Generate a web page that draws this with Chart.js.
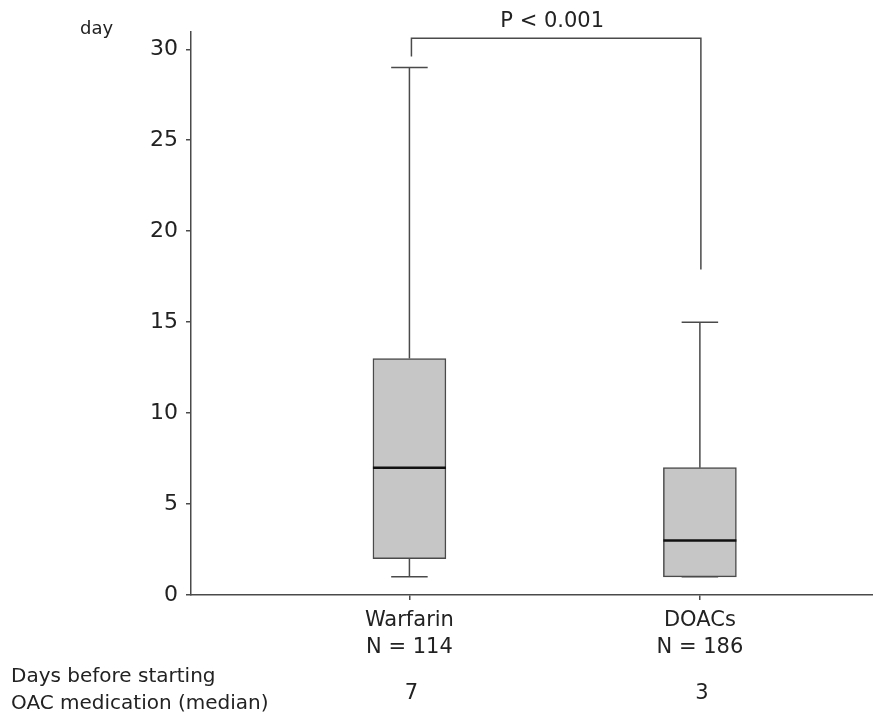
<!DOCTYPE html>
<html>
<head>
<meta charset="utf-8">
<script src="https://cdn.jsdelivr.net/npm/chart.js@4"></script>
<style>
  html, body { margin: 0; padding: 0; background: #fff; }
  #wrap { width: 873px; height: 719px; }
</style>
</head>
<body>
<div id="wrap"><canvas id="c"></canvas></div>
<script>
// data
const groups = ['Warfarin', 'DOACs'];
const counts = ['N = 114', 'N = 186'];
const xPos = [1, 2];
const mins = [1, 1];
const q1s = [2, 1];
const medians = [7, 3];
const q3s = [13, 7];
const maxs = [29, 15];
const yTicks = [0, 5, 10, 15, 20, 25, 30];
// significance bracket: left leg bottom, top, right leg bottom
const bracketY = [29.6, 30.6, 17.9];
const pLabel = 'P < 0.001';
const rowTitle = ['Days before starting', 'OAC medication (median)'];

const FONT = '"DejaVu Sans", Verdana, sans-serif';
const LINE = '#4a4a4a';

// whiskers, medians, bracket and extra text, all placed via the chart scales
const extras = {
  id: 'extras',
  afterDatasetsDraw(chart) {
    const { ctx, scales: { x, y } } = chart;
    const half = 36.5;
    ctx.save();
    ctx.strokeStyle = LINE;
    ctx.lineWidth = 1.5;
    xPos.forEach((v, i) => {
      const cx = x.getPixelForValue(v);
      ctx.beginPath();
      ctx.moveTo(cx, y.getPixelForValue(q3s[i]));
      ctx.lineTo(cx, y.getPixelForValue(maxs[i]));
      ctx.moveTo(cx, y.getPixelForValue(q1s[i]));
      ctx.lineTo(cx, y.getPixelForValue(mins[i]));
      // caps
      ctx.moveTo(cx - half / 2, y.getPixelForValue(maxs[i]));
      ctx.lineTo(cx + half / 2, y.getPixelForValue(maxs[i]));
      ctx.moveTo(cx - half / 2, y.getPixelForValue(mins[i]));
      ctx.lineTo(cx + half / 2, y.getPixelForValue(mins[i]));
      ctx.stroke();
    });
    // medians
    ctx.strokeStyle = '#111';
    ctx.lineWidth = 2.5;
    xPos.forEach((v, i) => {
      const cx = x.getPixelForValue(v);
      const my = y.getPixelForValue(medians[i]);
      ctx.beginPath();
      ctx.moveTo(cx - half, my);
      ctx.lineTo(cx + half, my);
      ctx.stroke();
    });
    ctx.restore();
  },
  afterDraw(chart) {
    const { ctx, scales: { x, y } } = chart;
    ctx.save();
    const xl = x.getPixelForValue(xPos[0]) + 2;
    const xr = x.getPixelForValue(xPos[1]) + 1;
    ctx.strokeStyle = LINE;
    ctx.lineWidth = 1.5;
    ctx.beginPath();
    ctx.moveTo(xl, y.getPixelForValue(bracketY[0]));
    ctx.lineTo(xl, y.getPixelForValue(bracketY[1]));
    ctx.lineTo(xr, y.getPixelForValue(bracketY[1]));
    ctx.lineTo(xr, y.getPixelForValue(bracketY[2]));
    ctx.stroke();

    ctx.fillStyle = '#222';
    ctx.textBaseline = 'middle';
    ctx.textAlign = 'center';
    ctx.font = '21px ' + FONT;
    ctx.fillText(pLabel, (xl + xr) / 2 - 4, 22);

    ctx.textAlign = 'left';
    ctx.font = '18px ' + FONT;
    ctx.fillText('day', 80, 29);

    ctx.font = '20px ' + FONT;
    ctx.fillText(rowTitle[0], 11, 677);
    ctx.fillText(rowTitle[1], 11, 704);

    ctx.textAlign = 'center';
    ctx.font = '21px ' + FONT;
    xPos.forEach((v, i) => {
      ctx.fillText(String(medians[i]), x.getPixelForValue(v) + 2, 694);
    });
    ctx.restore();
  }
};

new Chart(document.getElementById('c'), {
  type: 'bar',
  data: {
    datasets: [{
      data: xPos.map((v, i) => ({ x: v, y: [q1s[i], q3s[i]] })),
      backgroundColor: '#c6c6c6',
      borderColor: LINE,
      borderWidth: 1.5,
      borderSkipped: false,
      barThickness: 73
    }]
  },
  options: {
    responsive: true,
    maintainAspectRatio: false,
    animation: false,
    layout: { padding: { top: 32, right: 0, bottom: 0, left: 0 } },
    plugins: { legend: { display: false }, tooltip: { enabled: false } },
    scales: {
      x: {
        type: 'linear',
        offset: false,
        min: 0.248,
        max: 2.596,
        afterBuildTicks: s => { s.ticks = xPos.map(v => ({ value: v })); },
        afterFit: s => { s.height = 124; },
        grid: { offset: false, drawOnChartArea: false, drawTicks: true, tickLength: 5, color: LINE, lineWidth: 1.5 },
        border: { color: LINE, width: 1.5 },
        ticks: {
          autoSkip: false,
          maxRotation: 0,
          padding: 7,
          color: '#222',
          font: { family: FONT, size: 21, lineHeight: 1.29 },
          callback: v => {
            const i = xPos.indexOf(v);
            return i < 0 ? '' : [groups[i], counts[i]];
          }
        }
      },
      y: {
        min: 0,
        max: 30.95,
        afterBuildTicks: s => { s.ticks = yTicks.map(v => ({ value: v })); },
        afterFit: s => { s.width = 191; },
        grid: { drawOnChartArea: false, drawTicks: true, tickLength: 5, color: LINE, lineWidth: 1.5 },
        border: { color: LINE, width: 1.5 },
        ticks: {
          padding: 8,
          color: '#222',
          font: { family: FONT, size: 22 }
        }
      }
    }
  },
  plugins: [extras]
});
</script>
</body>
</html>
